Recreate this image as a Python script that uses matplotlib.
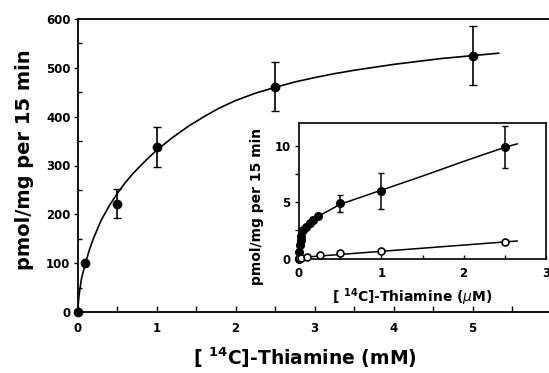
import numpy as np
import matplotlib
matplotlib.use("Agg")
import matplotlib.pyplot as plt
from matplotlib.ticker import MultipleLocator

# main panel: uptake vs thiamine (mM)
conc_mM = [0, 0.1, 0.5, 1.0, 2.5, 5.0]
uptake_mM = [0, 100, 222, 337, 461, 525]
err_mM = [0, 0, 29, 41, 50, 60]
# fitted curve
fit_x_mM = [0, 0.02, 0.05, 0.1, 0.15, 0.2, 0.3, 0.4, 0.5, 0.6, 0.7, 0.8, 0.9, 1.0,
            1.2, 1.4, 1.6, 1.8, 2.0, 2.25, 2.5, 2.75, 3.0, 3.25, 3.5, 3.75, 4.0,
            4.3, 4.6, 5.0, 5.33]
fit_y_mM = [0, 35, 68, 100, 127, 150, 188, 217, 242, 264, 283, 300, 316, 331,
            357, 380, 400, 418, 433, 448, 460, 471, 480, 488, 495, 501, 507,
            513, 519, 525, 530]

# inset: uptake vs thiamine (uM)
conc_uM = [0, 0.005, 0.01, 0.02, 0.03, 0.05, 0.09, 0.13, 0.17, 0.23, 0.5, 1.0, 2.5]
uptake_uM = [0, 0.6, 1.2, 1.6, 2.0, 2.5, 2.8, 3.1, 3.4, 3.75, 4.9, 6.0, 9.9]
err_uM = [0, 0, 0, 0, 0, 0.1, 0.15, 0.2, 0.3, 0.1, 0.75, 1.6, 1.85]
fit_x_uM = [0, 0.005, 0.01, 0.02, 0.04, 0.07, 0.12, 0.2, 0.3, 0.5, 1.0, 1.5, 2.0, 2.5, 2.65]
fit_y_uM = [0, 0.6, 1.1, 1.6, 2.3, 2.8, 3.2, 3.6, 4.0, 4.8, 6.05, 7.3, 8.6, 9.85, 10.15]

conc_open = [0, 0.02, 0.1, 0.25, 0.5, 1.0, 2.5]
uptake_open = [0.05, 0.08, 0.12, 0.27, 0.5, 0.65, 1.45]
fit_x_open = [0, 2.65]
fit_y_open = [0.08, 1.55]

xticks_main = [0, 1, 2, 3, 4, 5]
yticks_main = [0, 100, 200, 300, 400, 500, 600]
xticks_ins = [0, 1, 2, 3]
yticks_ins = [0, 5, 10]

plt.rcParams['font.family'] = ['DejaVu Sans']
fig = plt.figure(figsize=(5.49, 3.73), dpi=100)

# right edge of the frame runs just past the picture
ax = fig.add_axes([77.5/549, 61/373, 482/549, 293/373])
ax.plot(fit_x_mM, fit_y_mM, 'k-', lw=1.2, zorder=2)
ax.errorbar(conc_mM, uptake_mM, yerr=err_mM, fmt='o', color='k', ms=6,
            capsize=3, elinewidth=1.2, capthick=1.0, zorder=3, clip_on=False)
ax.set_xlim(0, 6.1)
ax.set_ylim(0, 600)
ax.set_xticks(xticks_main)
ax.set_yticks(yticks_main)
ax.xaxis.set_minor_locator(MultipleLocator(0.5))
ax.yaxis.set_minor_locator(MultipleLocator(50))
ax.tick_params(axis='x', which='both', direction='in', length=4, width=1, pad=7)
ax.tick_params(axis='y', which='major', direction='out', length=3, width=1, pad=2)
ax.tick_params(axis='y', which='minor', direction='in', length=3, width=1)
for lab in ax.get_xticklabels() + ax.get_yticklabels():
    lab.set_fontweight('bold')
    lab.set_fontsize(8.5)
for s in ax.spines.values():
    s.set_linewidth(1.3)

ax.set_ylabel('pmol/mg per 15 min', fontsize=14, fontweight='bold')
ax.yaxis.set_label_coords(-0.109, 0.519)
ax.yaxis.label.set_va('center')
ax.set_xlabel(r'[ $^{\mathbf{14}}$C]-Thiamine (mM)', fontsize=13.5, fontweight='bold')
ax.xaxis.set_label_coords(0.472, -0.155)
ax.xaxis.label.set_va('center')

# inset
ins = fig.add_axes([299/549, (373-258.5)/373, 247/549, 135.5/373])
ins.set_facecolor('white')
ins.plot(fit_x_uM, fit_y_uM, 'k-', lw=1.1, zorder=2)
ins.plot(fit_x_open, fit_y_open, 'k-', lw=1.1, zorder=2)
ins.errorbar(conc_uM, uptake_uM, yerr=err_uM, fmt='o', color='k', ms=5.5,
             capsize=2.5, elinewidth=1.1, capthick=1.0, zorder=3, clip_on=False)
ins.plot(conc_open, uptake_open, 'o', mfc='white', mec='k', ms=5, mew=1.2,
         zorder=4, clip_on=False)
ins.set_xlim(0, 3)
ins.set_ylim(0, 12)
ins.set_xticks(xticks_ins)
ins.set_yticks(yticks_ins)
ins.xaxis.set_minor_locator(MultipleLocator(0.5))
ins.yaxis.set_minor_locator(MultipleLocator(2.5))
ins.tick_params(axis='x', which='both', direction='in', length=3, width=1, pad=6)
ins.tick_params(axis='y', which='both', direction='out', length=3, width=1, pad=3)
for lab in ins.get_xticklabels() + ins.get_yticklabels():
    lab.set_fontweight('bold')
    lab.set_fontsize(8.5)
for s in ins.spines.values():
    s.set_linewidth(1.2)

ins.set_ylabel('pmol/mg per 15 min', fontsize=10, fontweight='bold')
ins.yaxis.set_label_coords(-0.17, 0.387)
ins.yaxis.label.set_va('center')
ins.set_xlabel(r'[ $^{\mathbf{14}}$C]-Thiamine ($\mu$M)', fontsize=10, fontweight='bold')
ins.xaxis.set_label_coords(0.457, -0.284)
ins.xaxis.label.set_va('center')

plt.savefig('out.png', dpi=100)
